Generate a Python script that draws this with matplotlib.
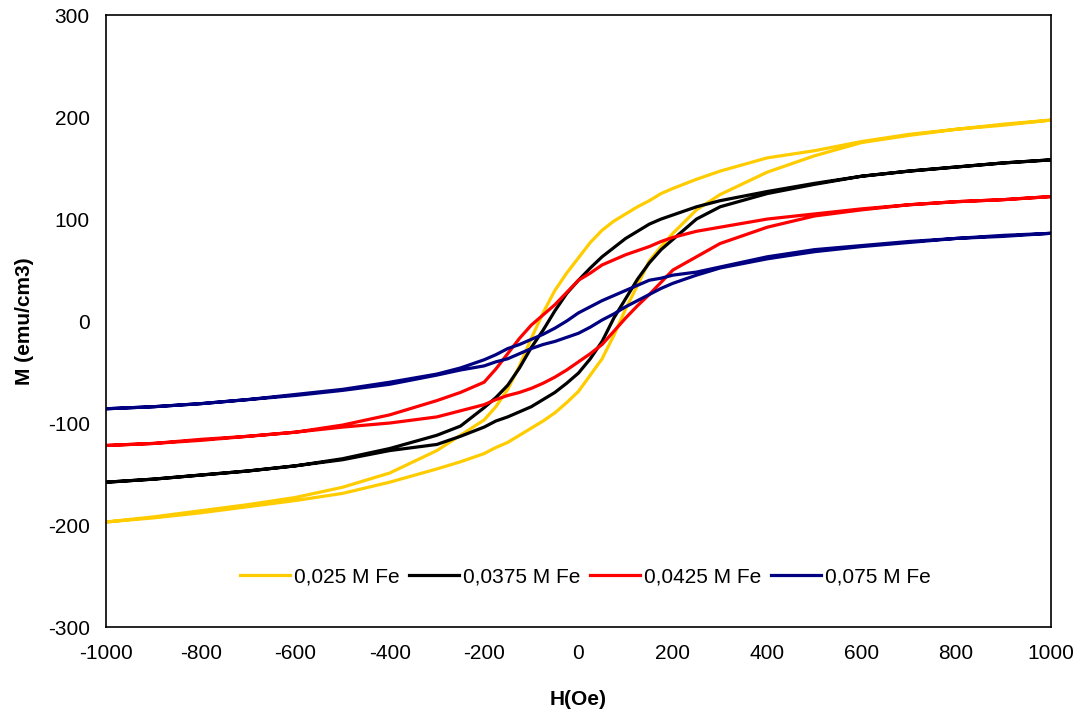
import matplotlib.pyplot as plt
import numpy as np

plt.rcParams['font.family'] = ['Liberation Sans', 'DejaVu Sans']
plt.rcParams['axes.unicode_minus'] = False

# field points: descending branch (from +H) and ascending branch (from -H)
h_down = [1000, 900, 800, 700, 600, 500, 400, 300, 250,
          200, 175, 150, 125, 100, 75, 50, 25, 0, -25, -50, -75, -100, -125, -150, -175, -200,
          -250, -300, -400, -500, -600, -700, -800, -900, -1000]
h_up = h_down[::-1]

labels = ["0,025 M Fe", "0,0375 M Fe", "0,0425 M Fe", "0,075 M Fe"]
colors = ["#FFCC00", "#000000", "#FF0000", "#000080"]

m_down_025 = [197, 192, 188, 183, 176, 167, 160, 147, 139,
              130, 125, 118, 112, 105, 98, 89, 77, 62, 47, 30, 8, -17, -44, -67, -84, -97,
              -112, -127, -149, -163, -173, -180, -186, -192, -197]
m_up_025 = [-197, -193, -188, -182, -176, -169, -158, -145, -138,
            -130, -124, -119, -112, -105, -98, -90, -80, -69, -53, -37, -14, 12, 35, 59, 73, 86,
            109, 124, 146, 162, 175, 182, 188, 193, 197]

m_down_0375 = [158, 155, 151, 147, 142, 135, 127, 118, 112,
               104, 100, 95, 88, 81, 72, 63, 52, 40, 27, 10, -9, -26, -46, -63, -75, -85,
               -103, -112, -125, -135, -142, -147, -151, -155, -158]
m_up_0375 = [-158, -155, -151, -147, -142, -136, -127, -121, -113,
             -104, -98, -94, -89, -84, -77, -70, -61, -51, -37, -20, 3, 22, 41, 57, 70, 80,
             100, 112, 125, 134, 142, 147, 151, 155, 158]

m_down_0425 = [122, 119, 117, 114, 110, 105, 100, 92, 88,
               82, 78, 73, 69, 65, 60, 55, 47, 40, 28, 16, 6, -4, -17, -32, -47, -60,
               -70, -78, -92, -102, -109, -113, -116, -120, -122]
m_up_0425 = [-122, -120, -117, -113, -109, -104, -100, -94, -88,
             -82, -77, -73, -70, -66, -61, -55, -48, -40, -32, -23, -10, 3, 15, 26, 38, 50,
             63, 76, 92, 103, 109, 114, 117, 119, 122]

m_down_075 = [86, 83, 81, 78, 74, 70, 63, 53, 48,
              45, 42, 40, 35, 30, 25, 20, 14, 8, 0, -7, -13, -18, -23, -27, -33, -38,
              -46, -52, -60, -67, -72, -77, -81, -84, -86]
m_up_075 = [-86, -84, -81, -77, -73, -68, -62, -53, -48,
            -44, -40, -37, -32, -27, -23, -20, -16, -12, -6, 1, 7, 14, 20, 26, 32, 37,
            45, 52, 61, 68, 73, 77, 81, 84, 86]

loops = [(m_down_025, m_up_025), (m_down_0375, m_up_0375),
         (m_down_0425, m_up_0425), (m_down_075, m_up_075)]

fig = plt.figure(figsize=(10.92, 7.17), dpi=100)
ax = fig.add_axes([0.0975, 0.1255, 0.8645, 0.8535])

for (down, up), color, label in zip(loops, colors, labels):
    h = np.concatenate([h_down, h_up])
    m = np.concatenate([down, up])
    ax.plot(h, m, color=color, lw=2.3, label=label, solid_joinstyle='round')

ax.set_xlim(-1000, 1000)
ax.set_ylim(-300, 300)
ax.set_xticks(np.arange(-1000, 1001, 200))
ax.set_yticks(np.arange(-300, 301, 100))
ax.tick_params(length=0, labelsize=15)
ax.tick_params(axis='x', pad=12)
ax.tick_params(axis='y', pad=12)
for s in ax.spines.values():
    s.set_color('black')
    s.set_linewidth(1.2)

ax.set_xlabel("H(Oe)", fontsize=15, fontweight='bold', labelpad=20)
ax.set_ylabel("M (emu/cm3)", fontsize=15, fontweight='bold', labelpad=10)

ax.legend(loc='center', bbox_to_anchor=(0.507, 0.082), ncol=4, frameon=False,
          fontsize=15, handlelength=2.4, handletextpad=0.2, columnspacing=0.45)

fig.savefig("out.png", dpi=100)
